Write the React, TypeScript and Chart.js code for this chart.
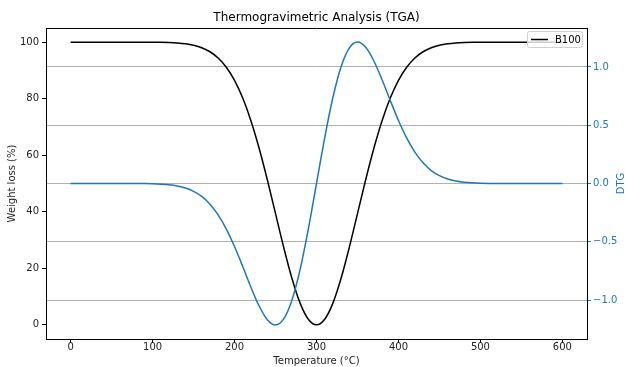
import React, { useEffect, useRef } from "react";
import { Chart, registerables } from "chart.js";

Chart.register(...registerables);

const temperature = [
  0, 10, 20, 30, 40, 50, 60, 70, 80, 90, 100, 110, 120, 130, 140, 150, 160, 170, 180, 190,
  200, 210, 220, 230, 240, 250, 260, 270, 280, 290, 300, 310, 320, 330, 340, 350, 360, 370,
  380, 390, 400, 410, 420, 430, 440, 450, 460, 470, 480, 490, 500, 510, 520, 530, 540, 550,
  560, 570, 580, 590, 600,
];

const weightLoss = [
  100, 100, 100, 100, 100, 100, 100, 100, 100,
  99.99, 99.97, 99.93, 99.85, 99.69, 99.4, 98.89, 98.02, 96.6, 94.39, 91.11,
  86.47, 80.21, 72.2, 62.47, 51.32, 39.35, 27.39, 16.47, 7.69, 1.98,
  0,
  1.98, 7.69, 16.47, 27.39, 39.35, 51.32, 62.47, 72.2, 80.21, 86.47,
  91.11, 94.39, 96.6, 98.02, 98.89, 99.4, 99.69, 99.85, 99.93, 99.97, 99.99,
  100, 100, 100, 100, 100, 100, 100, 100, 100,
];

const dtg = [
  0, 0, 0, 0, 0, 0, 0, 0, 0,
  -0.001, -0.003, -0.006, -0.011, -0.021, -0.038, -0.067, -0.111, -0.177, -0.269, -0.391,
  -0.541, -0.712, -0.89, -1.051, -1.168, -1.213, -1.162, -1.002, -0.738, -0.392,
  0,
  0.392, 0.738, 1.002, 1.162, 1.213, 1.168, 1.051, 0.89, 0.712, 0.541,
  0.391, 0.269, 0.177, 0.111, 0.067, 0.038, 0.021, 0.011, 0.006, 0.003, 0.001,
  0, 0, 0, 0, 0, 0, 0, 0, 0,
];

const xTicks = [0, 100, 200, 300, 400, 500, 600];
const weightTicks = [0, 20, 40, 60, 80, 100];
const dtgTicks = [-1.0, -0.5, 0.0, 0.5, 1.0];

const seriesLabel = "B100";
const chartTitle = "Thermogravimetric Analysis (TGA)";
const xTitle = "Temperature (°C)";
const yTitle = "Weight loss (%)";
const y1Title = "DTG";

const BLUE = "#1f77b4";
const FONT = "'DejaVu Sans', sans-serif";

const decorPlugin = {
  id: "decor",
  afterDraw(chart: any) {
    const { ctx, chartArea: ca } = chart;
    ctx.save();
    ctx.strokeStyle = "#000";
    ctx.lineWidth = 1;
    ctx.beginPath();
    ctx.moveTo(ca.left, ca.top + 0.5);
    ctx.lineTo(ca.right, ca.top + 0.5);
    ctx.stroke();
    ctx.fillStyle = "#000";
    ctx.font = `12px ${FONT}`;
    ctx.textAlign = "center";
    ctx.textBaseline = "middle";
    ctx.fillText(chartTitle, (ca.left + ca.right) / 2, 18);
    ctx.save();
    ctx.translate(621, (ca.top + ca.bottom) / 2);
    ctx.rotate(-Math.PI / 2);
    ctx.fillStyle = BLUE;
    ctx.font = `10px ${FONT}`;
    ctx.fillText(y1Title, 0, 0);
    ctx.restore();
    const bx = ca.right - 60;
    const by = ca.top + 3;
    const bw = 55;
    const bh = 16;
    ctx.fillStyle = "rgba(255,255,255,0.8)";
    ctx.strokeStyle = "#d0d0d0";
    ctx.lineWidth = 1;
    ctx.beginPath();
    ctx.roundRect(bx + 0.5, by + 0.5, bw, bh, 2);
    ctx.fill();
    ctx.stroke();
    ctx.strokeStyle = "#000";
    ctx.lineWidth = 1.5;
    ctx.beginPath();
    ctx.moveTo(bx + 4, by + bh / 2 + 0.5);
    ctx.lineTo(bx + 21, by + bh / 2 + 0.5);
    ctx.stroke();
    ctx.fillStyle = "#000";
    ctx.font = `10px ${FONT}`;
    ctx.textAlign = "left";
    ctx.textBaseline = "middle";
    ctx.fillText(seriesLabel, bx + 28, by + bh / 2 + 1);
    ctx.restore();
  },
};

export default function App() {
  const ref = useRef<HTMLCanvasElement>(null);

  useEffect(() => {
    if (!ref.current) return;
    const chart = new Chart(ref.current, {
      type: "line",
      data: {
        datasets: [
          {
            label: seriesLabel,
            data: temperature.map((t, i) => ({ x: t, y: weightLoss[i] })),
            borderColor: "#000",
            borderWidth: 1.5,
            pointRadius: 0,
            cubicInterpolationMode: "monotone",
            yAxisID: "y",
            order: 1,
          },
          {
            label: y1Title,
            data: temperature.map((t, i) => ({ x: t, y: dtg[i] })),
            borderColor: BLUE,
            borderWidth: 1.5,
            pointRadius: 0,
            cubicInterpolationMode: "monotone",
            yAxisID: "y1",
            order: 0,
          },
        ],
      },
      options: {
        responsive: false,
        animation: false,
        devicePixelRatio: 1,
        layout: { padding: { top: 28, left: 0, right: 0, bottom: 0 } },
        plugins: {
          legend: { display: false },
          tooltip: { enabled: false },
          title: { display: false },
        },
        scales: {
          x: {
            type: "linear",
            min: -30,
            max: 630,
            afterFit: (s: any) => {
              s.height = 28;
            },
            afterBuildTicks: (s: any) => {
              s.ticks = xTicks.map((v) => ({ value: v }));
            },
            grid: {
              drawOnChartArea: false,
              drawTicks: true,
              tickLength: 4,
              tickColor: "#000",
            },
            border: { display: true, color: "#000", width: 1 },
            ticks: {
              color: "#222",
              font: { family: FONT, size: 10 },
              padding: -2,
              maxRotation: 0,
              callback: (v: any) => String(v),
            },
            title: {
              display: true,
              text: xTitle,
              color: "#222",
              font: { family: FONT, size: 10 },
              padding: { top: 0, bottom: 0 },
            },
          },
          y: {
            type: "linear",
            position: "left",
            min: -5,
            max: 105,
            afterFit: (s: any) => {
              s.width = 46;
            },
            afterBuildTicks: (s: any) => {
              s.ticks = weightTicks.map((v) => ({ value: v }));
            },
            grid: {
              drawOnChartArea: false,
              drawTicks: true,
              tickLength: 4,
              tickColor: "#000",
            },
            border: { display: true, color: "#000", width: 1 },
            ticks: {
              color: "#222",
              font: { family: FONT, size: 10 },
              padding: 3,
              callback: (v: any) => String(v),
            },
            title: {
              display: true,
              text: yTitle,
              color: "#222",
              font: { family: FONT, size: 10 },
              padding: { top: 6, bottom: 0 },
            },
          },
          y1: {
            type: "linear",
            position: "right",
            min: -1.334,
            max: 1.334,
            afterFit: (s: any) => {
              s.width = 38;
            },
            afterBuildTicks: (s: any) => {
              s.ticks = dtgTicks.map((v) => ({ value: v }));
            },
            grid: {
              drawOnChartArea: true,
              drawTicks: true,
              tickLength: 4,
              color: "#b0b0b0",
              lineWidth: 1,
              tickColor: BLUE,
            },
            border: { display: true, color: "#000", width: 1 },
            ticks: {
              color: BLUE,
              font: { family: FONT, size: 10 },
              padding: 2,
              callback: (v: any) => Number(v).toFixed(1).replace("-", "\u2212"),
            },
          },
        },
      },
      plugins: [decorPlugin],
    });
    return () => chart.destroy();
  }, []);

  return (
    <div style={{ position: "absolute", left: 0, top: 0, width: 625, height: 367 }}>
      <canvas ref={ref} width={625} height={367} style={{ display: "block" }} />
    </div>
  );
}
